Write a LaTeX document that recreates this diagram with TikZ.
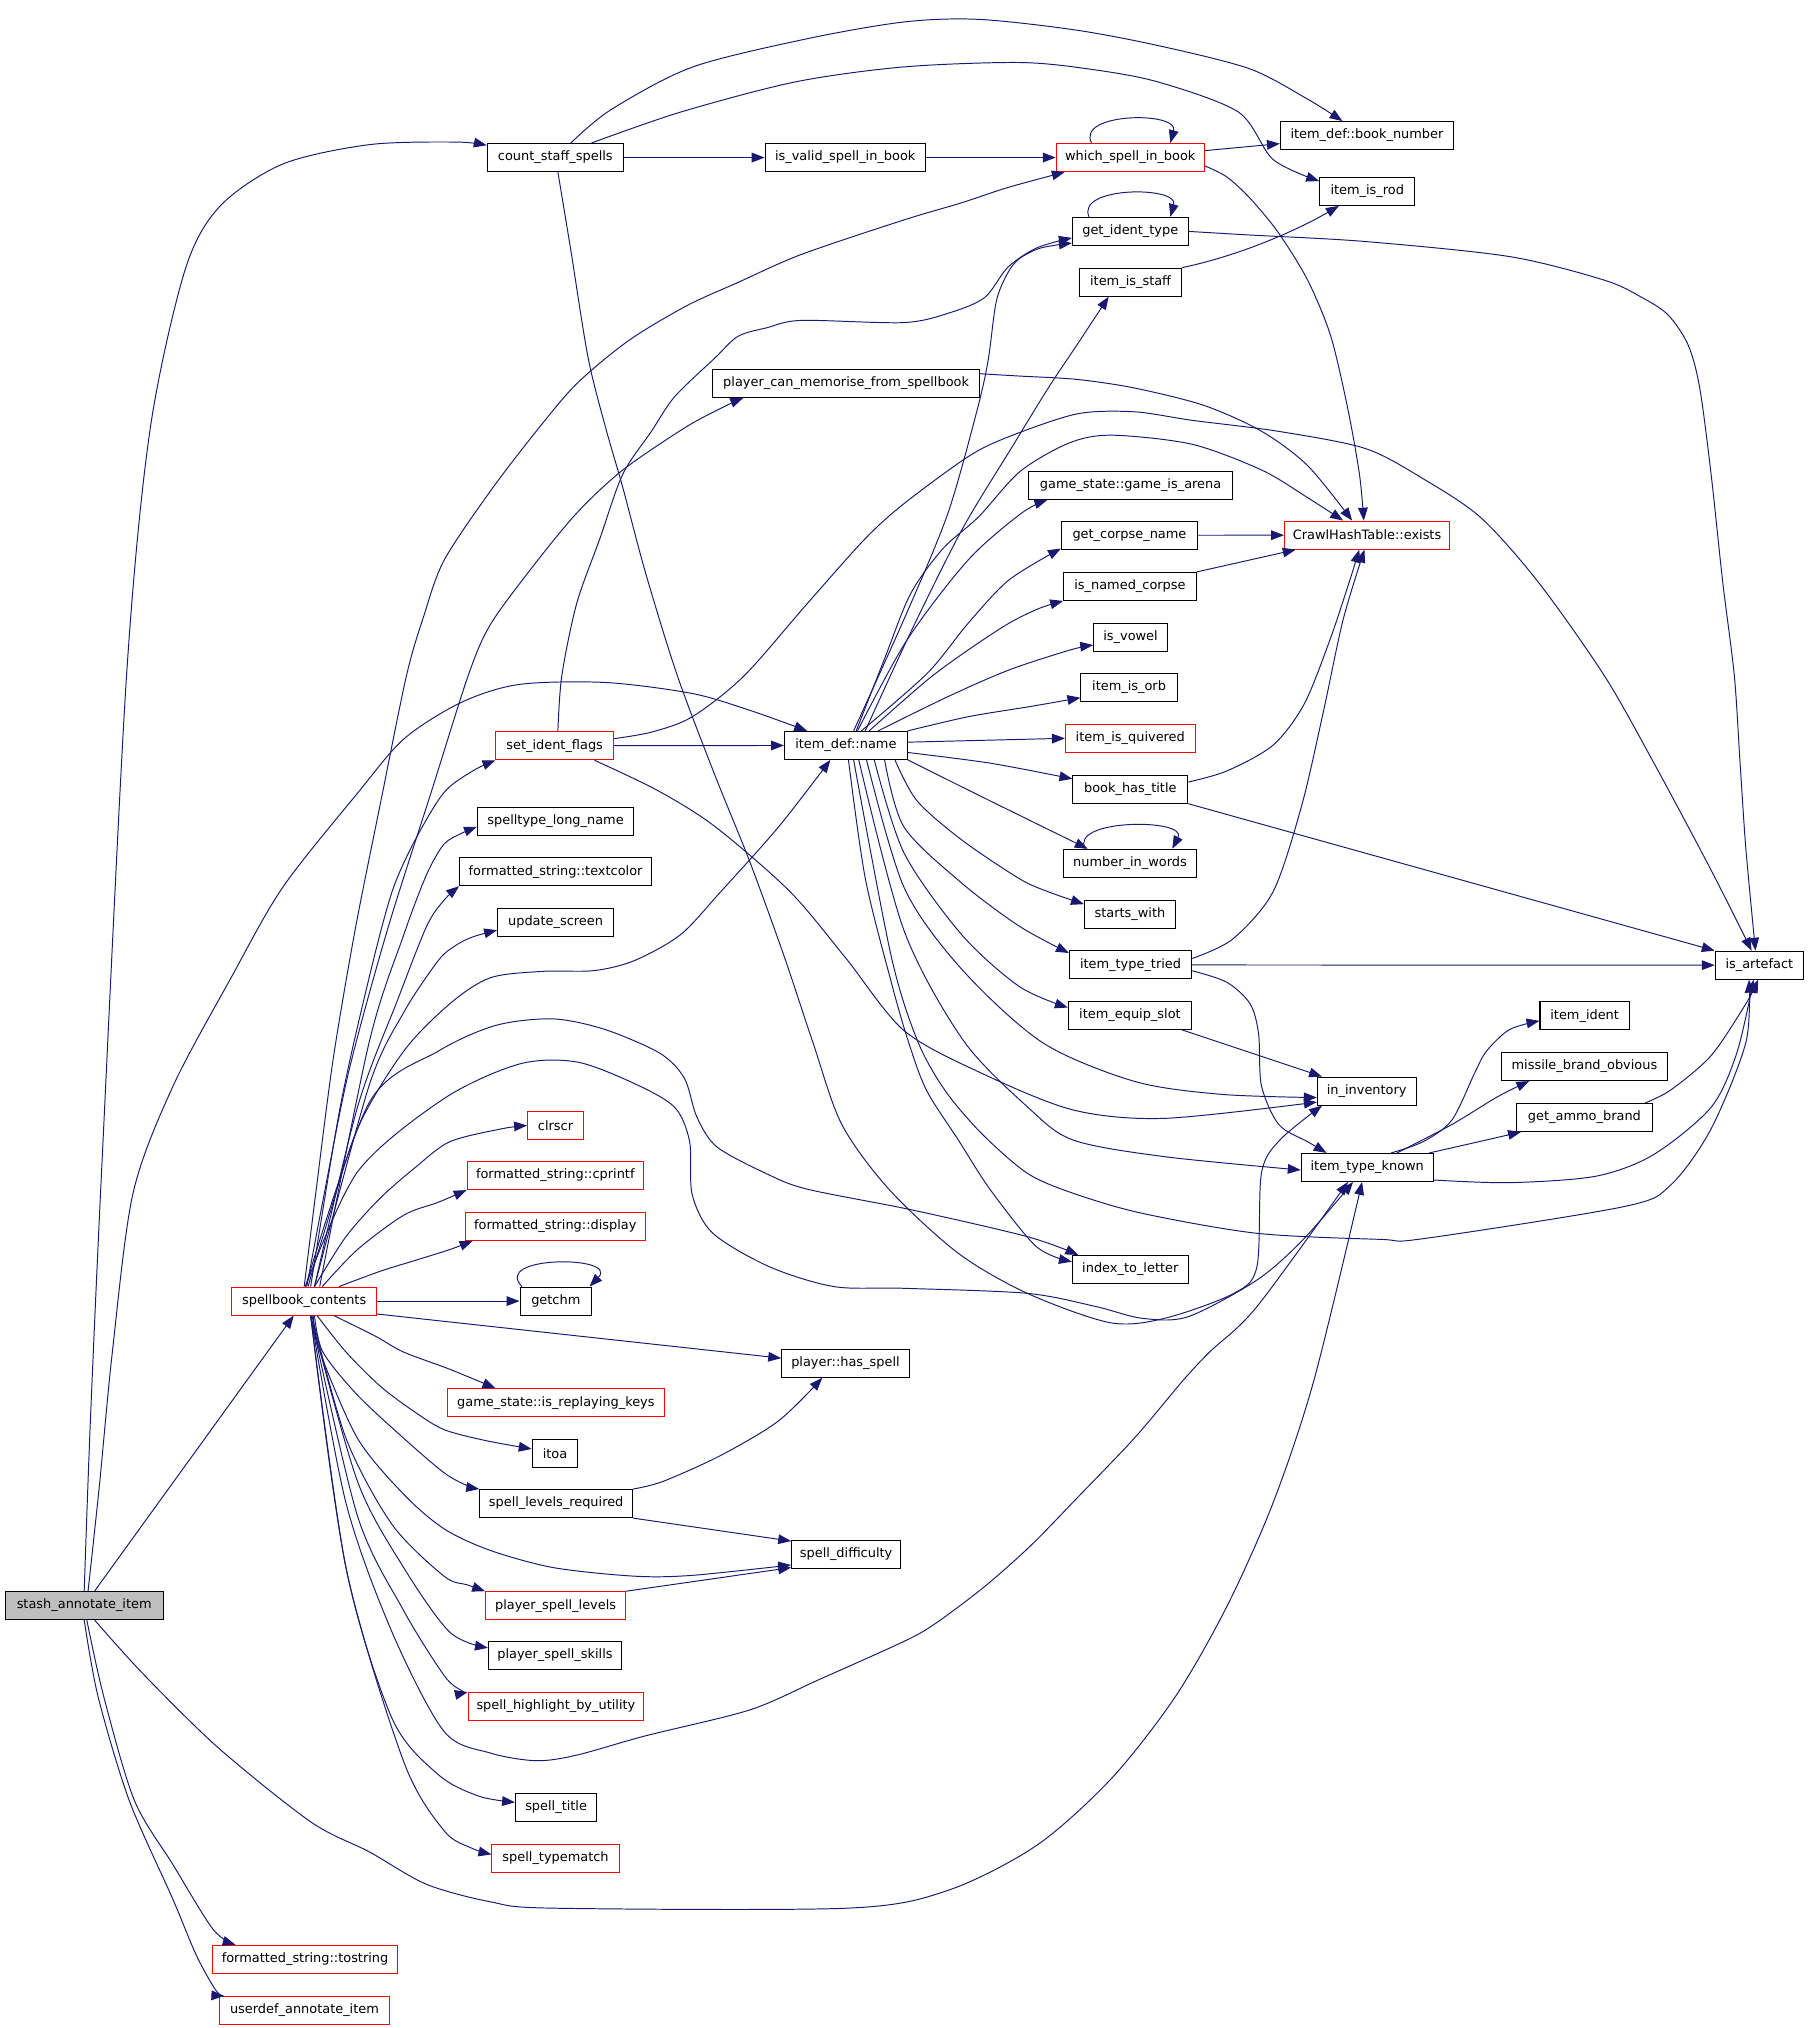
\documentclass[tikz,border=0pt]{standalone}
\usepackage{fontspec}
\setmainfont{DejaVu Sans}
\usetikzlibrary{arrows.meta,calc}
\definecolor{edgeblue}{HTML}{191970}
\definecolor{stashgray}{HTML}{BFBFBF}
\tikzset{
  box/.style={draw=black, line width=0.8pt, minimum height=21.7pt, inner sep=0pt, font=\fontsize{10}{12}\selectfont},
  rbox/.style={box, draw=red},
  edge/.style={draw=edgeblue, line width=0.75pt, -{Triangle[length=10pt,width=7.5pt]}},
}
\begin{document}
\begin{tikzpicture}[x=1pt,y=-1pt]
\fill[white] (0,0) rectangle (1400,1570.4);
\useasboundingbox (0,0) rectangle (1400,1570.4);
% nodes
\node[box, minimum width=122.4pt, fill=stashgray] (stash) at (65.2,1243.2) {stash\_annotate\_item};
\node[box, minimum width=105.4pt] (count) at (430,122) {count\_staff\_spells};
\node[box, minimum width=124pt] (isvalid) at (654.5,122) {is\_valid\_spell\_in\_book};
\node[rbox, minimum width=114.7pt] (whichsp) at (875.25,122) {which\_spell\_in\_book};
\node[box, minimum width=134pt] (booknum) at (1058.5,105) {item\_def::book\_number};
\node[box, minimum width=73.7pt] (isrod) at (1058.75,148.2) {item\_is\_rod};
\node[box, minimum width=89.7pt] (getident) at (875.25,179.2) {get\_ident\_type};
\node[box, minimum width=78.6pt] (isstaff) at (875.5,218.5) {item\_is\_staff};
\node[box, minimum width=206.6pt] (pcm) at (655.2,296.9) {player\_can\_memorise\_from\_spellbook};
\node[box, minimum width=158.1pt] (arena) at (875.45,375.9) {game\_state::game\_is\_arena};
\node[box, minimum width=105.4pt] (corpse) at (874.6,414.5) {get\_corpse\_name};
\node[rbox, minimum width=127.7pt] (exists) at (1058.55,414.4) {CrawlHashTable::exists};
\node[box, minimum width=102.7pt] (namedc) at (875,454.1) {is\_named\_corpse};
\node[box, minimum width=57.1pt] (vowel) at (875.45,493.5) {is\_vowel};
\node[box, minimum width=74.6pt] (orb) at (874.3,532.3) {item\_is\_orb};
\node[rbox, minimum width=100.5pt] (quiv) at (875.25,571.7) {item\_is\_quivered};
\node[box, minimum width=88.9pt] (bht) at (875.25,611.1) {book\_has\_title};
\node[box, minimum width=102.7pt] (niw) at (875,668.5) {number\_in\_words};
\node[box, minimum width=70.5pt] (startsw) at (875,708) {starts\_with};
\node[box, minimum width=94.7pt] (itt) at (875.45,747.2) {item\_type\_tried};
\node[box, minimum width=95.5pt] (ies) at (875,786.2) {item\_equip\_slot};
\node[box, minimum width=76.4pt] (inv) at (1058.3,844.9) {in\_inventory};
\node[box, minimum width=102.3pt] (itk) at (1058.75,904) {item\_type\_known};
\node[box, minimum width=69.2pt] (ident) at (1227.1,786.5) {item\_ident};
\node[box, minimum width=128.6pt] (mbo) at (1226.9,825.9) {missile\_brand\_obvious};
\node[box, minimum width=105.4pt] (gab) at (1226.9,865.3) {get\_ammo\_brand};
\node[box, minimum width=68.3pt] (isart) at (1362.35,747.4) {is\_artefact};
\node[box, minimum width=89.7pt] (itl) at (875.25,983) {index\_to\_letter};
\node[rbox, minimum width=91pt] (sif) at (429.5,577.5) {set\_ident\_flags};
\node[box, minimum width=95.1pt] (idname) at (655,577.2) {item\_def::name};
\node[box, minimum width=121pt] (stln) at (430.2,636.2) {spelltype\_long\_name};
\node[box, minimum width=148.6pt] (tcol) at (430.2,675) {formatted\_string::textcolor};
\node[box, minimum width=89.8pt] (upd) at (430.2,714.3) {update\_screen};
\node[rbox, minimum width=43.4pt] (clrscr) at (430.2,871.5) {clrscr};
\node[rbox, minimum width=136.6pt] (cprintf) at (430,910.3) {formatted\_string::cprintf};
\node[rbox, minimum width=139.3pt] (fdisp) at (430,949.7) {formatted\_string::display};
\node[rbox, minimum width=112.1pt] (sbc) at (235.55,1007.5) {spellbook\_contents};
\node[box, minimum width=55.4pt] (getchm) at (430.4,1007.5) {getchm};
\node[box, minimum width=98.8pt] (hasspell) at (654.7,1055.7) {player::has\_spell};
\node[rbox, minimum width=167.9pt] (irk) at (430.45,1086.2) {game\_state::is\_replaying\_keys};
\node[box, minimum width=35.3pt] (itoa) at (429.75,1125.5) {itoa};
\node[box, minimum width=118.3pt] (slr) at (430.65,1164.3) {spell\_levels\_required};
\node[box, minimum width=84.4pt] (sdiff) at (655.2,1203.6) {spell\_difficulty};
\node[rbox, minimum width=108.5pt] (psl) at (430.25,1243.4) {player\_spell\_levels};
\node[box, minimum width=103.1pt] (pss) at (429.75,1282) {player\_spell\_skills};
\node[rbox, minimum width=135.7pt] (shu) at (430.45,1321.5) {spell\_highlight\_by\_utility};
\node[box, minimum width=62.9pt] (stitle) at (430.65,1399.6) {spell\_title};
\node[rbox, minimum width=98.6pt] (stm) at (430.2,1439) {spell\_typematch};
\node[rbox, minimum width=142.8pt] (tostr) at (236.2,1517.2) {formatted\_string::tostring};
\node[rbox, minimum width=131.3pt] (userdef) at (235.75,1556.8) {userdef\_annotate\_item};

% ---- edges from stash_annotate_item
\draw[edge] plot[smooth] coordinates {(stash.north) (70,1100) (79,900) (98,523) (116,334) (143,210) (170,160) (219,127) (286,112) (353,110) ($(count.west)+(0,-9.5)$)};
\draw[edge] (stash) -- (sbc);
\draw[edge] plot[smooth] coordinates {($(stash.north)+(3,0)$) (77,1150) (87,1047) (103,924) (134,841) (179,757) (219,687) (277,614) (313,572) (357,544) (402,530) (469,528.5) (536,537) (580.5,550) ($(idname.north)+(-30,0)$)};
\draw[edge] plot[smooth] coordinates {($(stash.south)+(8,0)$) (111.6,1297) (169.7,1354) (241,1411) (286,1434) (330,1459) (379.5,1472.6) (428.6,1477.6) (656,1477.6) (733.5,1464) (802.7,1429) (860.8,1377) (910,1314) (950,1244) (985.7,1164) (1017.5,1068.6) ($(itk.south)+(-4,0)$)};
\draw[edge] plot[smooth] coordinates {($(stash.south)+(2,0)$) (80.4,1314) (104,1394) (134,1444) (165,1494) ($(tostr.north west)+(18,0)$)};
\draw[edge] plot[smooth] coordinates {(stash.south) (76,1314) (100,1394) (134,1471) (152,1514) (167,1541) ($(userdef.north west)+(4,0)$)};

% ---- count_staff_spells
\draw[edge] (count) -- (isvalid);
\draw[edge] (isvalid) -- (whichsp);
\draw[edge] plot[smooth] coordinates {($(count.north)+(12,0)$) (473,85) (536,52) (625,30) (700,17) (758,15) (834,23.4) (900,36) (968,53.4) (1012.6,76.8) ($(booknum.north)+(-19,0)$)};
\draw[edge] plot[smooth] coordinates {($(count.north)+(28,0)$) (527,86.8) (616,63.4) (700,51.8) (789,48.4) (843,53.4) (896.5,63.4) (959,86.8) (985.8,123.5) ($(isrod.west)+(0,-8)$)};
\draw[edge] plot[smooth] coordinates {($(count.south)+(2,0)$) (442,193.7) (455.4,277) (468.8,330.6) (482.2,377.3) (500,444) (524.6,523.5) (553.6,600.3) (580.5,667) (607.2,740.5) (629.5,807.3) (651.9,870.8) (688.9,921.5) (742.1,970.5) (795.5,1001.5) (859.5,1024.2) (902,1020.8) (955.5,1001.5) (973.3,980.9) (976.8,908.5) (991,882.8) ($(inv.south west)+(4,0)$)};

% ---- which_spell_in_book
\draw[edge] ($(whichsp.north)+(-30,0)$) .. controls (833,87) and (913,86) .. ($(whichsp.north)+(31,0)$);
\draw[edge] (whichsp) -- (booknum);
\draw[edge] plot[smooth] coordinates {($(whichsp.east)+(0,6.5)$) (950,137) (968,153.6) (990,180.3) (1012.6,217) (1030.5,260.4) (1043.8,317.2) (1052.7,367.3) ($(exists.north)+(-2.5,0)$)};

% ---- get_ident_type, item_is_staff, player_can_memorise
\draw[edge] ($(getident.north)+(-32,0)$) .. controls (833,144) and (913,144) .. ($(getident.north)+(31,0)$);
\draw[edge] plot[smooth] coordinates {(getident.east) (968,182) (1057,187) (1169,198.7) (1242.5,217) (1271.5,230.4) (1291.6,243.8) (1307.2,267.1) (1316.2,300.5) (1325,367.3) (1334,450.8) (1343,523.5) (1347.4,590.3) (1351.9,657) ($(isart.north)+(-3,0)$)};
\draw[edge] (isstaff.north east) .. controls (960,198) and (1005,178) .. ($(isrod.south)+(-22,0)$);
\draw[edge] plot[smooth] coordinates {($(pcm.east)+(0,-7.5)$) (789.3,291.2) (834,293.8) (878.6,300.5) (932.2,313.9) (976.8,333.9) (1012.6,360.6) ($(exists.north)+(-11.5,0)$)};

% ---- spellbook_contents (upward fan)
\draw[edge] plot[smooth] coordinates {($(sbc.north)+(2,0)$) (250,930) (270,830) (300,720) (335,610) (362.6,523) (379.5,484) (410.8,441) (446.5,397.4) (482.2,364) (531.3,330.6) (562.6,314) ($(pcm.south west)+(24,0)$)};
\draw[edge] plot[smooth] coordinates {(sbc.north) (245,920) (258,820) (275,720) (295,620) (314.8,523) (328,477.5) (343.8,434) (379.5,380.6) (415.2,334) (446.5,297.2) (486.7,263.8) (531.3,237) (571.5,218.7) (620.6,197) (700,170.3) (744.7,157) (780.4,145.2) ($(whichsp.south west)+(7,0)$)};
\draw[edge] plot[smooth] coordinates {($(sbc.north)+(5,0)$) (263.4,857.4) (285.8,757.2) (303.6,690.5) (321.5,650.4) (343.8,613.7) (366,597) (sif.south west)};
\draw[edge] plot[smooth] coordinates {($(sbc.north)+(12,0)$) (285.8,807.3) (312.6,724) (330.4,677.1) (343.8,653.7) (357.2,645.4) ($(stln.west)+(0,4)$)};
\draw[edge] plot[smooth] coordinates {($(sbc.north)+(8,0)$) (276.8,857.4) (308,774) (330.4,717.2) (343.8,697.1) (tcol.south west)};
\draw[edge] plot[smooth] coordinates {($(sbc.north)+(8,0)$) (285.8,840.7) (312.6,784) (339.3,743.9) (352.7,732.2) (366,725.5) ($(upd.west)+(0,6)$)};
\draw[edge] plot[smooth] coordinates {($(sbc.north)+(3,0)$) (250,957.6) (276.8,874.1) (312.6,814) (348.3,777.3) (379.5,757.2) (419.7,752.2) (459.9,751.6) (491.1,743.9) (526.9,723.8) (558.1,690.5) (602.8,640.4) ($(idname.south)+(-12,0)$)};
\draw[edge] plot[smooth] coordinates {($(sbc.north)+(1,0)$) (285.8,854) (339.3,814) (384,794) (428.6,789) (468.8,797.3) (511,815.6) (530,835) (539.5,864.7) (555,888) (592.8,908.5) (625,920.8) (706.6,937) (795.5,957.6) ($(itl.north west)+(5,0)$)};
\draw[edge] plot[smooth] coordinates {($(sbc.north)+(1,0)$) (276.8,907.5) (343.8,850.7) (401.9,824) (446.5,822.3) (491.1,839) (522.4,857.4) (534,884) (536,925) (552,955) (596,981) (646,996.3) (700,997.6) (795.5,1001.5) (848.9,1011.8) (884.3,1020.8) (920,1019.6) (973.3,991.2) (1008.8,960.2) ($(itk.south)+(-11,0)$)};
\draw[edge] plot[smooth] coordinates {($(sbc.north)+(8,0)$) (267.9,957.6) (294.7,927.5) (321.5,904.1) (348.3,884.1) (388.4,874.1) (clrscr.west)};
\draw[edge] plot[smooth] coordinates {($(sbc.north)+(14,0)$) (276.8,967.6) (312.6,941) (339.3,931) (cprintf.south west)};
\draw[edge] plot[smooth] coordinates {($(sbc.north)+(27,0)$) (294.7,984.3) (321.5,976) (348.3,967.6) ($(fdisp.south west)+(6,0)$)};

% ---- spellbook_contents (right and downward fan)
\draw[edge] (sbc) -- (getchm);
\draw[edge] ($(getchm.north west)+(2,0)$) .. controls (380,972) and (480,972) .. ($(getchm.north east)+(-2,0)$);
\draw[edge] ($(sbc.east)+(0,10)$) -- ($(hasspell.west)+(0,-4)$);
\draw[edge] plot[smooth] coordinates {($(sbc.south)+(23,0)$) (290.2,1034.4) (312.6,1047) (348.3,1060.3) ($(irk.north west)+(37.5,0)$)};
\draw[edge] plot[smooth] coordinates {($(sbc.south)+(10,0)$) (267.9,1046.9) (294.7,1073.6) (321.5,1093.6) (343.8,1107) (375,1115.3) ($(itoa.west)+(0,-3.5)$)};
\draw[edge] plot[smooth] coordinates {($(sbc.south)+(8,0)$) (250,1046.9) (276.8,1080.3) (312.6,1113.7) (343.8,1140.4) (361.7,1150.4) (slr.north west)};
\draw[edge] plot[smooth] coordinates {($(sbc.south)+(7,0)$) (247.8,1046.9) (276.8,1113.7) (312.6,1157.1) (343.8,1183.8) (379.5,1200.5) (428.6,1213.9) (491.1,1220.5) (535.8,1219.9) ($(sdiff.south west)+(0,-3)$)};
\draw[edge] plot[smooth] coordinates {(slr.north east) (513.5,1147.1) (558.1,1127) (602.8,1100.3) ($(hasspell.south)+(-18,0)$)};
\draw[edge] (slr.south east) -- ($(sdiff.north west)+(0,1)$);
\draw[edge] plot[smooth] coordinates {($(sbc.south)+(6,0)$) (267.9,1113.7) (303.6,1180.5) (343.8,1220.5) (361.7,1227.2) (psl.north west)};
\draw[edge] (psl.north east) -- ($(sdiff.south west)+(0,-1)$);
\draw[edge] plot[smooth] coordinates {($(sbc.south)+(5,0)$) (276.8,1147) (312.6,1213.9) (348.3,1263.9) ($(pss.west)+(0,-6)$)};
\draw[edge] plot[smooth] coordinates {($(sbc.south)+(5,0)$) (276.8,1173.8) (312.6,1247.2) (343.8,1297.3) (357.2,1309) (shu.north west)};
\draw[edge] plot[smooth] coordinates {($(sbc.south)+(5,0)$) (267.9,1163.8) (303.6,1263.9) (343.8,1340.7) (379.5,1357.4) (415.2,1363.4) (446.5,1359.1) (500,1344.1) (580.5,1324.1) (634,1300.7) (700,1271) (724.6,1257) (762.5,1228.5) (798.2,1196.8) (833.9,1160.1) (878.6,1113.4) (916.4,1068.6) (936.7,1046.9) (973.3,1011.8) ($(itk.south)+(-15,0)$)};
\draw[edge] plot[smooth] coordinates {($(sbc.south)+(5,0)$) (267.9,1213.9) (303.6,1330.7) (339.3,1374.1) (370.6,1390.8) ($(stitle.west)+(0,-4)$)};
\draw[edge] plot[smooth] coordinates {($(sbc.south)+(5,0)$) (267.9,1213.9) (312.6,1364.1) (343.8,1417.5) (365,1431) ($(stm.west)+(0,-3)$)};

% ---- set_ident_flags
\draw[edge] (sif) -- (idname);
\draw[edge] plot[smooth] coordinates {($(sif.north)+(2.5,0)$) (435,523.5) (446.5,467.5) (464.4,417.4) (482.2,367.3) (504.5,333.9) (522.4,307.2) (553.7,277.1) (571.5,260.4) (593.8,253.8) (620.6,248.1) (700,249.8) (735.7,242.1) (762.5,230.4) (780.4,207) (802.7,192) ($(getident.west)+(0,5)$)};
\draw[edge] plot[smooth] coordinates {($(sif.east)+(0,-5.5)$) (504.5,566.9) (535.8,555.2) (576,523.5) (625,467.5) (669.7,417.4) (700,390) (749.7,353.6) (781.3,338.1) (834,320.5) (878.6,318.9) (923.3,325.5) (990,334) (1057.2,347.3) (1101.8,370.6) (1146.5,400.7) (1191.2,450.8) (1242.5,523.5) (1280.4,590.3) (1325,673.8) ($(isart.north)+(-6,0)$)};
\draw[edge] plot[smooth] coordinates {($(sif.south east)+(-15,0)$) (509,612) (553.6,640) (611.7,690.4) (655,742) (700,798) (760,831) (831,859.5) (902,866) ($(inv.west)+(0,8.5)$)};

% ---- item_def::name
\draw[edge] plot[smooth] coordinates {($(idname.north)+(6,0)$) (702,475) (734,397.5) (756,320) (765,280) (771.4,233.7) (780,212) (789.3,200.3) (806,192) ($(getident.west)+(0,9)$)};
\draw[edge] plot[smooth] coordinates {($(idname.north)+(15,0)$) (705,490) (745,410) (785,344) (812,300) (834,267) ($(isstaff.south)+(-17,0)$)};
\draw[edge] plot[smooth] coordinates {($(idname.north)+(8,0)$) (685,510) (705,460) (730,425) (758,400) (790,365) (828,343) (861,337) (923,344) (977,364) (1012,385) ($(exists.north)+(-18.5,0)$)};
\draw[edge] plot[smooth] coordinates {($(idname.north)+(9,0)$) (702.3,495.6) (749.7,433.6) (790.8,397.5) ($(arena.south west)+(15,0)$)};
\draw[edge] plot[smooth] coordinates {($(idname.north)+(12,0)$) (718,521.4) (749.7,482.6) (781.3,449.1) ($(corpse.south west)+(0,-1)$)};
\draw[edge] plot[smooth] coordinates {($(idname.north)+(18,0)$) (718,526.6) (749.7,503.3) (781.3,482.6) (805,471) (namedc.south west)};
\draw[edge] plot[smooth] coordinates {($(idname.north)+(25,0)$) (733.9,539.5) (781.3,518.8) (828.7,503.3) ($(vowel.west)+(0,6)$)};
\draw[edge] plot[smooth] coordinates {(idname.north east) (749.7,555) (797.1,547.2) ($(orb.west)+(0,8)$)};
\draw[edge] ($(idname.east)+(0,-2.5)$) -- (quiv.west);
\draw[edge] plot[smooth] coordinates {($(idname.east)+(0,5.5)$) (767,591) ($(bht.west)+(0,-8)$)};
\draw[edge] plot[smooth] coordinates {(idname.south east) (767,620.3) ($(niw.north west)+(19,0)$)};
\draw[edge] ($(niw.north west)+(17,0)$) .. controls (828,633.7) and (920,633.7) .. ($(niw.north east)+(-19,0)$);
\draw[edge] plot[smooth] coordinates {($(idname.south)+(38,0)$) (710,620) (744.7,650.4) (789.3,680.4) (811.6,690.5) ($(startsw.north west)+(0,3.4)$)};
\draw[edge] plot[smooth] coordinates {($(idname.south)+(30,0)$) (700,640.4) (744.7,683.8) (789.3,717.2) ($(itt.north west)+(0,2)$)};
\draw[edge] plot[smooth] coordinates {($(idname.south)+(22,0)$) (700,660.4) (744.7,723.8) (789.3,763.9) ($(ies.west)+(0,-6)$)};
\draw[edge] plot[smooth] coordinates {($(idname.south)+(16,0)$) (700,687.1) (744.7,750.5) (807.2,807.3) (878.6,837.4) (945.6,847.4) ($(inv.west)+(0,5)$)};
\draw[edge] plot[smooth] coordinates {($(idname.south)+(10,0)$) (700,720.5) (745.7,805.3) (795.5,857) (831,882.8) (902,895.7) ($(itk.west)+(0,2)$)};
\draw[edge] plot[smooth] coordinates {($(idname.south)+(6,0)$) (690,740) (710.2,805.3) (731.5,844) (760,877.6) (795.5,908.5) (831,924) (884.3,939.5) (973.3,955) (1068.6,959.7) (1101.9,959.2) (1258.1,934.2) (1293.8,917.5) (1325,874.1) (1351.9,807.3) ($(isart.south)+(-8,0)$)};
\draw[edge] plot[smooth] coordinates {($(idname.south)+(2,0)$) (670,680) (690,760) (703,805.3) (717.3,844) (742.1,882.8) (767,921.5) (802.6,965.4) ($(itl.west)+(0,-6)$)};

% ---- right side callees
\draw[edge] (itt) -- (isart);
\draw[edge] plot[smooth] coordinates {($(itt.east)+(0,-5)$) (954.5,727.2) (985.8,690.5) (1008,623.7) (1025,550) (1040,480) ($(exists.south)+(-2,0)$)};
\draw[edge] plot[smooth] coordinates {($(bht.east)+(0,-5.5)$) (950,597) (985.8,577) (1010,545) (1030,495) (1045,450) ($(exists.south)+(-6,0)$)};
\draw[edge] (bht.south east) -- (isart.north west);
\draw[edge] plot[smooth] coordinates {($(itt.east)+(0,4.5)$) (950,760.6) (968,777.3) (974.6,800.6) (976.8,840.7) (990.2,870.8) (1012.6,884.1) ($(itk.north west)+(20,0)$)};
\draw[edge] (corpse) -- (exists);
\draw[edge] (namedc.north east) -- ($(exists.south west)+(9,0)$);
\draw[edge] ($(ies.south east)+(-8,0)$) -- ($(inv.north west)+(4,0)$);
\draw[edge] plot[smooth] coordinates {($(itk.north)+(18.5,0)$) (1101.9,884.1) (1124.2,867.4) (1142,830.7) (1151,814) (1168.8,797.3) ($(ident.west)+(0,4)$)};
\draw[edge] plot[smooth] coordinates {($(itk.north)+(23,0)$) (1124.2,870.8) (1159.9,849.1) ($(mbo.south west)+(22,0)$)};
\draw[edge] plot[smooth] coordinates {($(itk.north east)+(-3.5,0)$) (1137.6,885.8) ($(gab.south west)+(4,0)$)};
\draw[edge] plot[smooth] coordinates {($(gab.north east)+(-6,0)$) (1293.8,844) (1325,817.4) (1351.9,777.3) ($(isart.south)+(-1,0)$)};
\draw[edge] plot[smooth] coordinates {($(itk.south east)+(0,-1.5)$) (1168.8,915.8) (1235.8,910.8) (1280.4,894.1) (1325,857.4) (1345,815) ($(isart.south)+(-4.5,0)$)};
\end{tikzpicture}
\end{document}
